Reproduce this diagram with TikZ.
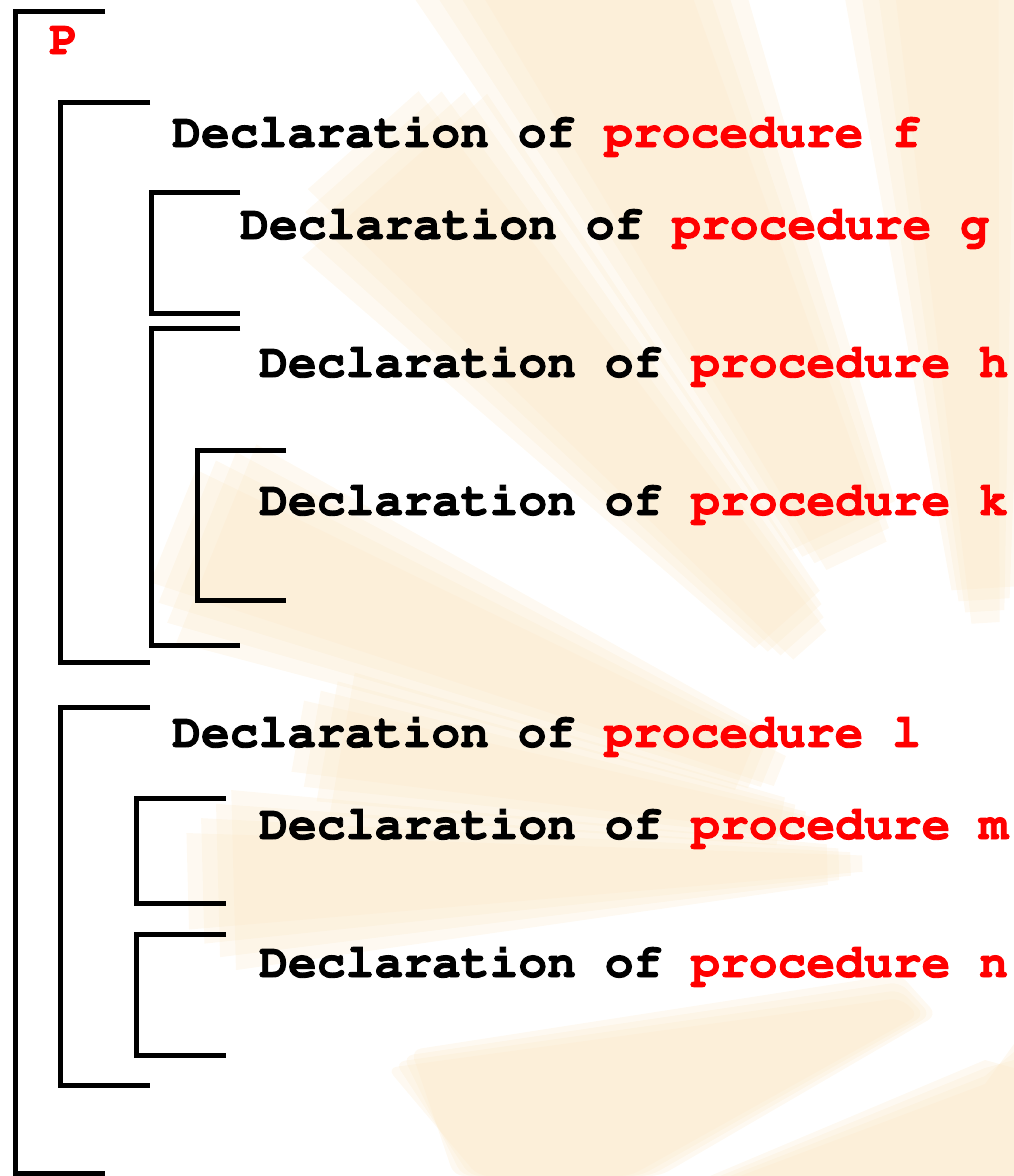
\documentclass[tikz,border=0pt]{standalone}
\usepackage[T1]{fontenc}
\definecolor{ray}{RGB}{250,231,198}
\definecolor{kw}{RGB}{255,0,0}
% heavier strokes for the monospaced lettering (fill + outline)
\newcommand{\heavytext}[1]{\special{pdf:literal direct 2 Tr 0.9 w}#1\special{pdf:literal direct 0 Tr}}
\begin{document}
\begin{tikzpicture}[x=1pt,y=-1pt,
  bracket/.style={line width=5pt, line join=miter, line cap=butt},
  decl/.style={anchor=base west, inner sep=0pt,
    font=\fontfamily{pcr}\bfseries\fontsize{48}{48}\selectfont},
  rayfill/.style={fill=ray, fill opacity=0.24}]
\useasboundingbox (0,0) rectangle (1014,1176);

% faint sunburst in the background, soft edges from stacked fills
\begin{scope}
  \clip (0,0) rectangle (1014,1176);
  \begin{scope}[shift={(1000,860)}]
    \foreach \a/\b/\ri/\ro in {89/98/250/1200, 108.5/122/350/1200, 126/137/300/950,
                               153/163/250/880, 166/174/200/700, 177/186/150/800}{
      \foreach \d in {-1,0,1,2}{
        \fill[rayfill] ({-\a+1.1*\d}:{\ri+12*\d}) -- ({-\a+1.1*\d}:{\ro-14*\d})
          -- ({-\b-1.1*\d}:{\ro-14*\d}) -- ({-\b-1.1*\d}:{\ri+12*\d}) -- cycle;
      }
    }
  \end{scope}
  \foreach \d in {-1,0,1,2}{
    \fill[rayfill, rounded corners=10pt]
      (395+8*\d,1062-6*\d) -- (900,990-8*\d) -- (925+6*\d,1015) -- (640+10*\d,1176) -- (470-8*\d,1176) -- cycle;
    \fill[rayfill] (720+10*\d,1176) -- (985,1068+8*\d) -- (1014,1060-8*\d) -- (1014,1176) -- cycle;
  }
\end{scope}

% nesting brackets
\draw[bracket] (105,11) -- (15,11) -- (15,1173) -- (105,1173);
\draw[bracket] (150,102) -- (60,102) -- (60,662) -- (150,662);
\draw[bracket] (240,192) -- (151,192) -- (151,313) -- (240,313);
\draw[bracket] (240,328) -- (151,328) -- (151,645) -- (240,645);
\draw[bracket] (286,450) -- (197,450) -- (197,600) -- (286,600);
\draw[bracket] (150,707) -- (60,707) -- (60,1085) -- (150,1085);
\draw[bracket] (226,798) -- (136,798) -- (136,903) -- (226,903);
\draw[bracket] (226,934) -- (136,934) -- (136,1055) -- (226,1055);

% declarations
\node[decl] (prog) at (49,54) {\heavytext{\textcolor{kw}{P}}};
\node[decl] (decf) at (172,147) {\heavytext{Declaration of \textcolor{kw}{procedure f}}};
\node[decl] (decg) at (240,239) {\heavytext{Declaration of \textcolor{kw}{procedure g}}};
\node[decl] (dech) at (259,377) {\heavytext{Declaration of \textcolor{kw}{procedure h}}};
\node[decl] (deck) at (259,515) {\heavytext{Declaration of \textcolor{kw}{procedure k}}};
\node[decl] (decl) at (172,747) {\heavytext{Declaration of \textcolor{kw}{procedure l}}};
\node[decl] (decm) at (259,839) {\heavytext{Declaration of \textcolor{kw}{procedure m}}};
\node[decl] (decn) at (259,977) {\heavytext{Declaration of \textcolor{kw}{procedure n}}};
\end{tikzpicture}
\end{document}
